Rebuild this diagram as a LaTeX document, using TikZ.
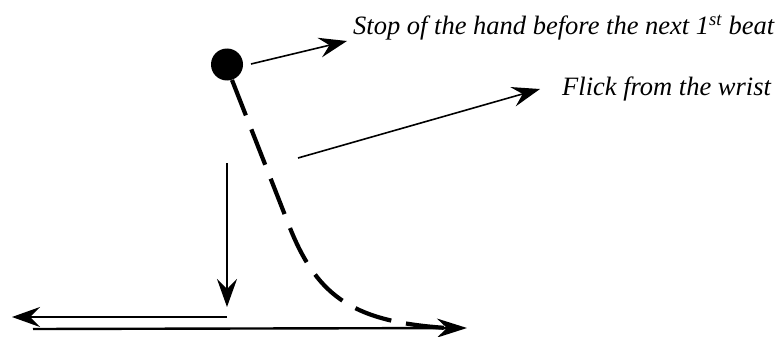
\documentclass[tikz,border=0pt]{standalone}
\usepackage{fontspec}
\setmainfont{Liberation Serif}
\usetikzlibrary{arrows.meta}
\tikzset{
  lbl/.style={font=\fontsize{26.5}{30}\selectfont\itshape, inner sep=0pt, anchor=base west},
  thinarrow/.style={line width=1.6pt, -{Stealth[length=28pt, width=20pt, inset=10pt]}},
  baseline arrow/.style={line width=2.4pt, -{Stealth[length=30pt, width=19pt, inset=10pt]}},
  flick/.style={line width=4.2pt, dash pattern=on 38pt off 15pt},
  dotstyle/.style={circle, fill=black, minimum size=32pt, inner sep=0pt}
}
\begin{document}
\begin{tikzpicture}[x=1pt, y=-1pt]
\useasboundingbox (0,0) rectangle (781,337);
\node[dotstyle] (dot) at (227,64.5) {};
\node[lbl] (stop) at (353,35) {Stop of the hand before the next 1\textsuperscript{st} beat};
\node[lbl] (wrist) at (562,95) {Flick from the wrist};
\coordinate (a1s) at (251,64);
\coordinate (a1e) at (347,41);
\coordinate (a2s) at (298,158);
\coordinate (a2e) at (540,89);
\coordinate (vs) at (227,163);
\coordinate (ve) at (227,307);
\coordinate (ls) at (227,317);
\coordinate (le) at (12,317);
\coordinate (bs) at (33,329);
\coordinate (be) at (467,328);
\coordinate (cs) at (232,80);
\coordinate (cm) at (290,228);
\coordinate (cend) at (447,328);
\draw[thinarrow] (a1s) -- (a1e);
\draw[thinarrow] (a2s) -- (a2e);
\draw[thinarrow] (vs) -- (ve);
\draw[thinarrow] (ls) -- (le);
\draw[baseline arrow] (bs) -- (be);
\draw[flick] (cs) -- (cm) .. controls (318,298) and (355,322) .. (cend);
\end{tikzpicture}
\end{document}
